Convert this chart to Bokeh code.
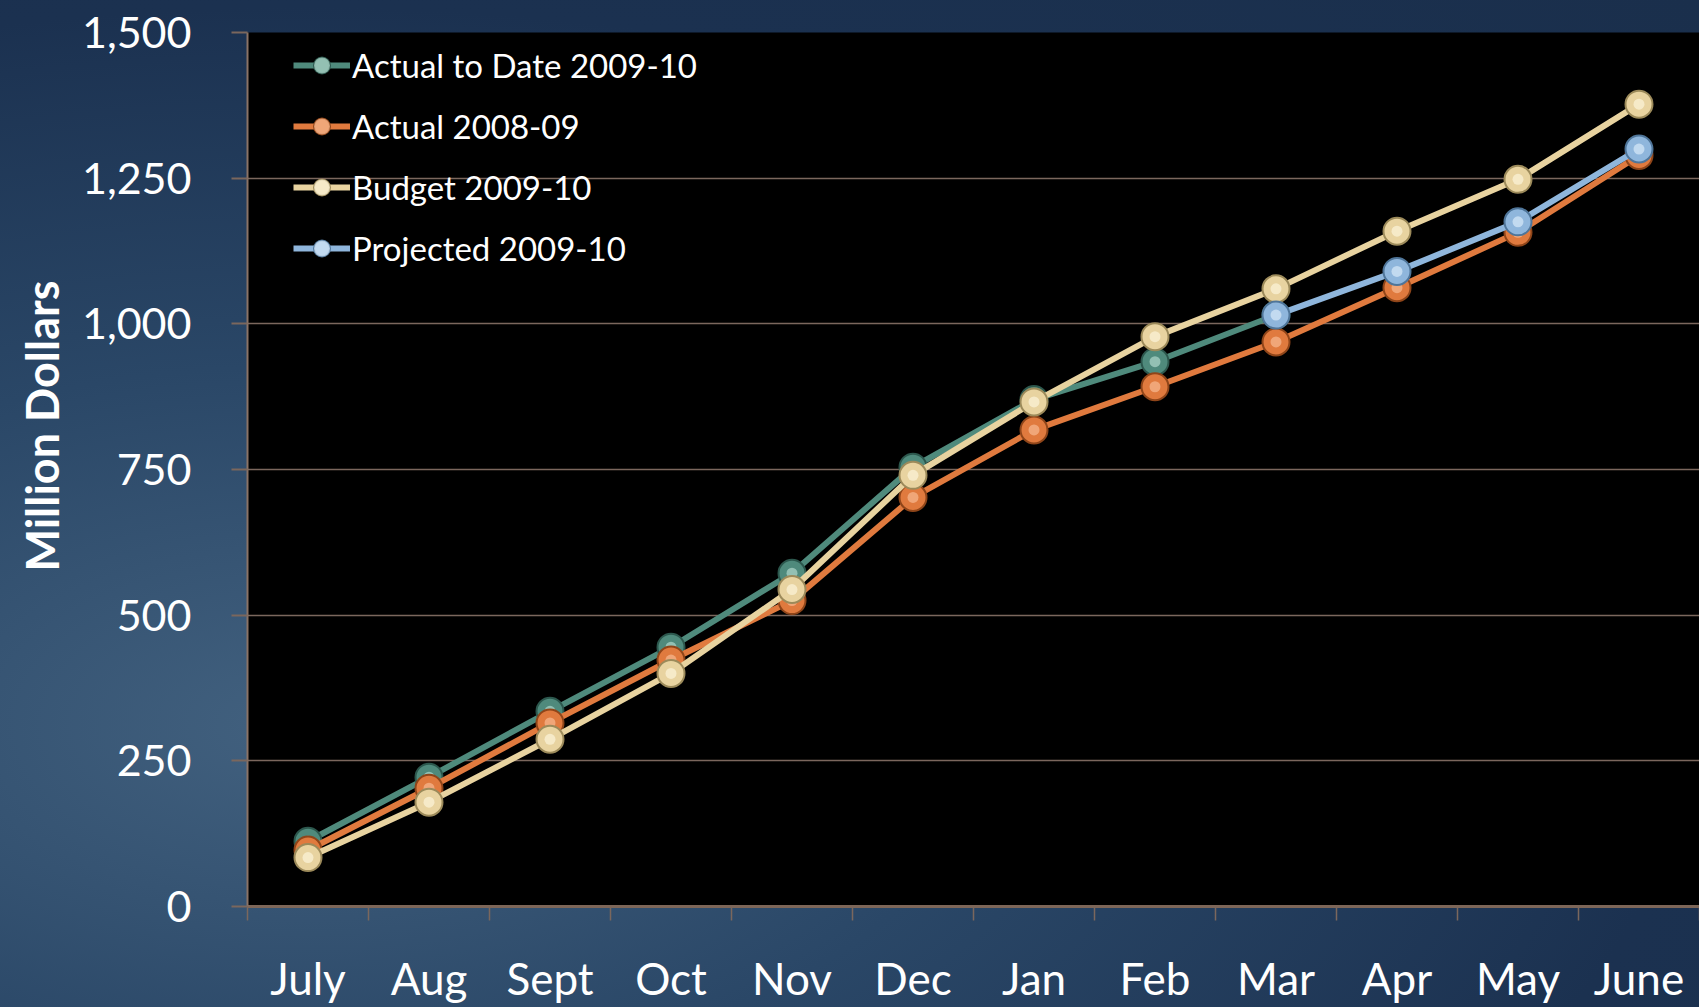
from bokeh.plotting import figure
from bokeh.models import (Range1d, LinearAxis, FixedTicker, Title,
                          NumeralTickFormatter, Legend, LegendItem)
from bokeh.embed import file_html
from bokeh.resources import INLINE

# ---- data ----
months = ["July", "Aug", "Sept", "Oct", "Nov", "Dec", "Jan", "Feb", "Mar", "Apr", "May", "June"]
y_ticks = [0, 250, 500, 750, 1000, 1250, 1500]

actual_0910_months = months[:9]
actual_0910 = [112, 222, 335, 445, 572, 754, 870, 935, 1015]
actual_0809 = [97, 203, 315, 423, 525, 702, 818, 892, 969, 1062, 1157, 1289]
budget_0910 = [84, 179, 287, 400, 544, 740, 866, 978, 1060, 1159, 1248, 1377]
projected_months = months[8:]
projected_0910 = [1015, 1090, 1175, 1300]

names = ["Actual to Date 2009-10", "Actual 2008-09", "Budget 2009-10", "Projected 2009-10"]
xs = [actual_0910_months, months, months, projected_months]
ys = [actual_0910, actual_0809, budget_0910, projected_0910]
colors = ["#4f8a7c", "#e07a3e", "#e8d3a0", "#8fb6dc"]
dark = ["#2c574d", "#8f4519", "#9c8a5a", "#4f7599"]
light = ["#a9d2c6", "#f6b68c", "#fbf1d6", "#d3e6f7"]

FONT = "Lato"
GRID = "#7b675d"

# category centres on a numeric scale (category i spans i..i+1)
centre = {m: i + 0.5 for i, m in enumerate(months)}

p = figure(width=1699, height=1007,
           x_range=Range1d(0, len(months)),
           y_range=Range1d(y_ticks[0], y_ticks[-1]),
           output_backend="svg", toolbar_location=None,
           x_axis_location=None, y_axis_location="left",
           min_border_left=247, min_border_right=0, min_border_top=32, min_border_bottom=101)

p.background_fill_color = "black"
p.border_fill_color = None
p.outline_line_color = None
p.styles = {"background": "radial-gradient(ellipse at 18% 72%, #42617f 0%, #2a4767 35%, #1b3150 70%, #1a2f4c 100%)"}

# y axis
ya = p.yaxis[0]
ya.ticker = FixedTicker(ticks=y_ticks)
ya.formatter = NumeralTickFormatter(format="0,0")
ya.major_label_text_font = FONT
ya.major_label_text_font_size = "43px"
ya.major_label_text_color = "white"
ya.major_label_standoff = 40
ya.major_tick_out = 16
ya.major_tick_in = 0
ya.major_tick_line_color = GRID
ya.major_tick_line_width = 2
ya.minor_tick_line_color = None
ya.axis_line_color = "#8a7366"
ya.axis_line_width = 2

# y axis title (sits a little above the frame's centre, as in the original)
ytitle = Title(text="Million Dollars", align="right", offset=248, standoff=20,
               text_font=FONT, text_font_style="bold", text_font_size="45px",
               text_color="white")
p.add_layout(ytitle, "left")

p.ygrid.ticker = FixedTicker(ticks=y_ticks)
p.ygrid.grid_line_color = GRID
p.ygrid.grid_line_width = 1.5
p.xgrid.grid_line_color = None

# x axis: boundary ticks
tick_axis = LinearAxis(ticker=FixedTicker(ticks=list(range(len(months) + 1))),
                       major_tick_out=14, major_tick_in=0, major_tick_line_color=GRID,
                       major_tick_line_width=1.5, minor_tick_line_color=None,
                       major_label_text_font_size="0px", major_label_text_color=None,
                       axis_line_color="#7d6658", axis_line_width=3)
p.add_layout(tick_axis, "below")
# x axis: month names at category centres
label_axis = LinearAxis(ticker=FixedTicker(ticks=[centre[m] for m in months]),
                        major_label_overrides={centre[m]: m for m in months},
                        major_tick_line_color=None, minor_tick_line_color=None, axis_line_color=None,
                        major_label_standoff=25, major_label_text_font=FONT,
                        major_label_text_font_size="44px", major_label_text_color="white")
p.add_layout(label_axis, "below")

items = []
for name, x, y, c, d, l in zip(names, xs, ys, colors, dark, light):
    xx = [centre[m] for m in x]
    ln = p.line(xx, y, line_color=c, line_width=6)
    sc = p.scatter(xx, y, size=27, fill_color=c, line_color=d, line_width=2)
    hl = p.scatter(xx, y, size=11, fill_color=l, fill_alpha=0.75, line_color=None)
    items.append(LegendItem(label=name, renderers=[ln, sc, hl]))

legend = Legend(items=items, location=(46, 638), padding=3, margin=0,
                glyph_width=57, glyph_height=40, label_height=40, spacing=21,
                label_standoff=2, label_text_font=FONT, label_text_font_size="33px",
                label_text_color="white", background_fill_alpha=0, border_line_color=None)
p.add_layout(legend, "center")

open("out.html", "w").write(file_html(p, INLINE))
